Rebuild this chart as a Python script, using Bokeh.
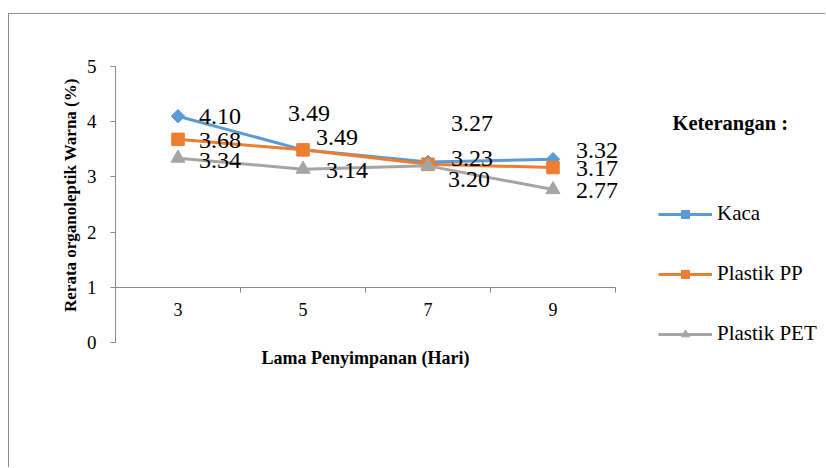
import math
from bokeh.plotting import figure
from bokeh.models import (Range1d, LinearAxis, FixedTicker, Label,
                          Legend, LegendItem, ColumnDataSource)
from bokeh.core.properties import value
from bokeh.embed import file_html
from bokeh.resources import INLINE

# ---- data ----
days = [3, 5, 7, 9]
kaca = [4.10, 3.49, 3.27, 3.32]
plastik_pp = [3.68, 3.49, 3.23, 3.17]
plastik_pet = [3.34, 3.14, 3.20, 2.77]
series_names = ["Kaca", "Plastik PP", "Plastik PET"]
y_ticks = [0, 1, 2, 3, 4, 5]
x_title = "Lama Penyimpanan (Hari)"
y_title = "Rerata organoleptik  Warna (%)"
legend_title = "Keterangan :"

# ---- styling ----
FONT = "Liberation Serif"
AXIS_COLOR = "#898989"
colors = ["#5B9BD5", "#ED7D31", "#A5A5A5"]
markers = ["square", "square", "triangle"]
marker_sizes = [9.5, 12.5, 14]
marker_angles = [math.pi / 4, 0, 0]
# data label offsets in screen pixels (dx, dy)
label_dx = [[21, -15, 23, 23], [21, 13, 23, 23], [21, 23, 20, 23]]
label_dy = [[0, -36, -38, -9], [1, -12, -6, 1], [2, 1, 14, 1]]

# ---- layout geometry (pixels) ----
W, H = 817, 454                 # figure size (after 8px/13px offset and border)
CANVAS_X0, CANVAS_Y0 = 9, 14    # page position of the canvas
AX_LEFT, AX_RIGHT = 115, 615    # category axis extent on the page
Y5_PX, Y0_PX = 66, 342          # page rows of y = 5 and y = 0
FRAME_BOTTOM = 371              # page row of the (invisible) plot-area bottom

half = (days[1] - days[0]) / 2
x_start = days[0] - half
x_axis_end = days[-1] + half
px_x = (AX_RIGHT - AX_LEFT) / (x_axis_end - x_start)
x_view_end = x_start + (CANVAS_X0 + W - AX_LEFT) / px_x
px_y = (Y0_PX - Y5_PX) / (y_ticks[-1] - y_ticks[0])
y_view_start = y_ticks[0] - (FRAME_BOTTOM - Y0_PX) / px_y
y_view_end = y_ticks[-1] + (Y5_PX - CANVAS_Y0) / px_y

p = figure(x_range=Range1d(x_start, x_view_end), y_range=Range1d(y_view_start, y_view_end),
           width=W, height=H, output_backend="svg", toolbar_location=None,
           min_border_left=AX_LEFT - CANVAS_X0, min_border_right=0, min_border_top=0,
           min_border_bottom=H - (FRAME_BOTTOM - CANVAS_Y0),
           styles={"margin-left": "8px", "margin-top": "13px",
                   "border-left": "1px solid #8c8c8c", "border-top": "1px solid #8c8c8c"})
p.outline_line_color = None
p.xgrid.visible = False
p.ygrid.visible = False
p.background_fill_color = "white"
p.border_fill_color = "white"

# y axis
ya = p.yaxis[0]
ya.ticker = FixedTicker(ticks=y_ticks)
ya.bounds = (y_ticks[0], y_ticks[-1])
ya.major_tick_out = 5
ya.major_tick_in = 0
ya.minor_tick_line_color = None
ya.axis_line_color = AXIS_COLOR
ya.major_tick_line_color = AXIS_COLOR
ya.major_label_text_font = FONT
ya.major_label_text_font_size = "19px"
ya.major_label_text_color = "#000000"
ya.major_label_standoff = 14
ya.axis_label = y_title
ya.axis_label_text_font = FONT
ya.axis_label_text_font_style = "bold"
ya.axis_label_text_font_size = "17px"
ya.axis_label_text_color = "#000000"
ya.axis_label_standoff = 4

# x axis (category labels) crossing at y = 1
xa = p.xaxis[0]
xa.ticker = FixedTicker(ticks=days)
xa.fixed_location = 1
xa.bounds = (x_start, x_axis_end)
xa.major_tick_line_color = None
xa.minor_tick_line_color = None
xa.major_tick_out = 0
xa.major_tick_in = 0
xa.axis_line_color = AXIS_COLOR
xa.major_label_text_font = FONT
xa.major_label_text_font_size = "18px"
xa.major_label_text_color = "#000000"
xa.major_label_standoff = 16

# tick marks between categories
edges = [d + half for d in days]
edge_axis = LinearAxis(ticker=FixedTicker(ticks=edges),
                       fixed_location=1, axis_line_color=None,
                       bounds=(x_start, x_axis_end),
                       major_tick_out=5, major_tick_in=0,
                       major_tick_line_color=AXIS_COLOR, minor_tick_line_color=None,
                       major_label_text_font_size="0px",
                       major_label_overrides={e: "" for e in edges})
p.add_layout(edge_axis, "below")

# x-axis title, centred under the category span
p.add_layout(Label(x=(x_start + x_axis_end) / 2, y=FRAME_BOTTOM - 357, y_units="screen",
                   text=x_title, text_font=FONT, text_font_style="bold",
                   text_font_size="18px", text_color="#000000",
                   text_align="center", text_baseline="middle"))

items = []
for i, (name, vals) in enumerate(zip(series_names, [kaca, plastik_pp, plastik_pet])):
    src = ColumnDataSource(dict(x=days, y=vals))
    lr = p.line("x", "y", source=src, line_color=colors[i], line_width=3)
    sr = p.scatter("x", "y", source=src, marker=markers[i], size=marker_sizes[i],
                   angle=marker_angles[i], fill_color=colors[i], line_color=colors[i])
    items.append(LegendItem(label=name, renderers=[lr, sr]))

for i, vals in enumerate([kaca, plastik_pp, plastik_pet]):
    src = ColumnDataSource(dict(x=days, y=vals, txt=[f"{v:.2f}" for v in vals],
                                dx=label_dx[i], dy=label_dy[i]))
    p.text("x", "y", text="txt", x_offset="dx", y_offset="dy", source=src,
           text_font=value(FONT), text_font_size="24px", text_color="#000000",
           text_align="left", text_baseline="middle")

# legend heading
p.add_layout(Label(x=672 - AX_LEFT, y=FRAME_BOTTOM - 122, x_units="screen", y_units="screen",
                   text=legend_title, text_font=FONT, text_font_style="bold",
                   text_font_size="20.5px", text_color="#000000",
                   text_align="left", text_baseline="middle"))

legend = Legend(items=items, location=(658 - AX_LEFT, FRAME_BOTTOM - 346),
                label_text_font=FONT, label_text_font_size="21px",
                label_text_color="#000000",
                glyph_width=54, glyph_height=20, label_standoff=5,
                spacing=35, padding=0, margin=0,
                border_line_color=None, background_fill_alpha=0)
p.add_layout(legend)

open("out.html", "w").write(file_html(p, INLINE))
